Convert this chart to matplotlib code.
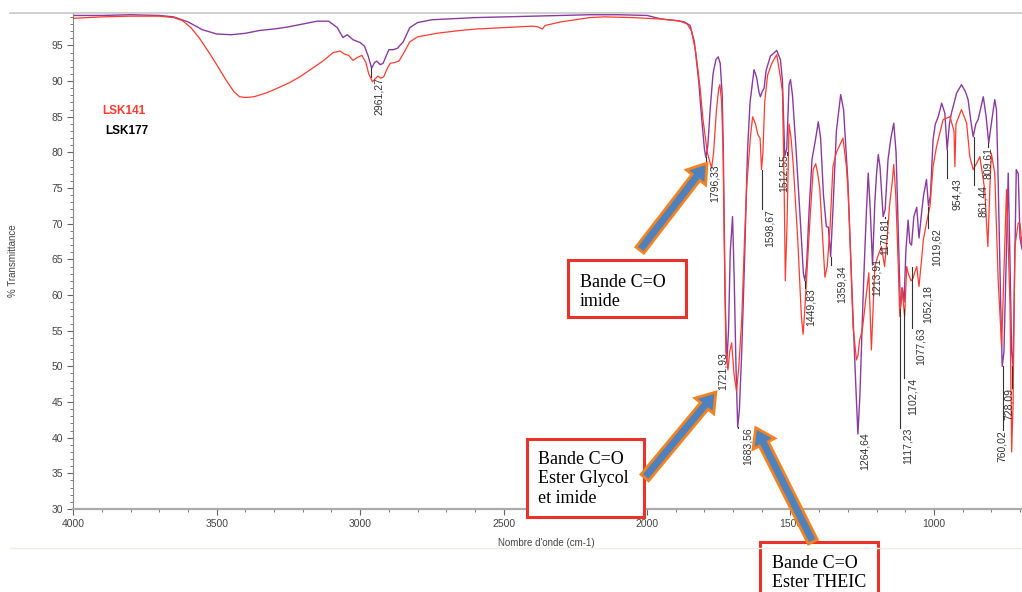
import matplotlib.pyplot as plt
from matplotlib.patches import Rectangle, FancyArrowPatch
from matplotlib.lines import Line2D
from matplotlib.ticker import MultipleLocator

plt.rcParams['font.family'] = ['Liberation Sans', 'DejaVu Sans']

# Spectre LSK177 (violet)
wn_177 = [4000, 3900, 3800, 3700, 3650, 3600, 3550, 3500, 3450, 3400, 3350, 3300, 3250, 3200,
          3150, 3110, 3080, 3060, 3045, 3025, 3000, 2985, 2972, 2960, 2950, 2942, 2930, 2920,
          2900, 2885, 2870, 2850, 2827, 2800, 2750, 2600, 2400, 2200, 2100, 2000, 1950, 1900,
          1870, 1850, 1835, 1820, 1810, 1800, 1795, 1788, 1780, 1770, 1760, 1752, 1745, 1738,
          1734, 1728, 1722, 1716, 1710, 1702, 1696, 1690, 1684, 1678, 1670, 1660, 1650, 1641,
          1627, 1618, 1610, 1605, 1598, 1592, 1585, 1570, 1548, 1535, 1528, 1520, 1513, 1505,
          1500, 1493, 1480, 1465, 1455, 1450, 1444, 1435, 1425, 1412, 1403, 1395, 1385, 1375,
          1368, 1360, 1352, 1340, 1325, 1315, 1300, 1285, 1272, 1265, 1258, 1245, 1235, 1229,
          1222, 1214, 1206, 1200, 1194, 1188, 1177, 1170, 1160, 1150, 1140, 1132, 1125, 1117,
          1110, 1104, 1098, 1090, 1084, 1078, 1070, 1060, 1052, 1043, 1036, 1026, 1019, 1012,
          1003, 995, 985, 973, 962, 954, 946, 939, 921, 904, 890, 881, 870, 863, 854, 846,
          828, 818, 809, 800, 788, 782, 776, 768, 762, 756, 748, 741, 735, 729, 724, 718,
          713, 706, 700, 693]
t_177 = [99.2, 99.2, 99.3, 99.2, 99.0, 98.3, 97.2, 96.6, 96.5, 96.7, 97.1, 97.3, 97.6, 98.0,
         98.4, 98.4, 97.5, 96.1, 96.5, 95.8, 95.4, 94.9, 93.5, 91.8, 92.6, 92.8, 92.3, 92.5,
         94.4, 94.4, 94.6, 95.5, 97.5, 98.2, 98.6, 98.9, 99.1, 99.3, 99.3, 99.2, 98.7, 98.5,
         98.3, 97.8, 95.5, 90.0, 85.0, 80.5, 79.3, 81.0, 86.0, 91.0, 93.0, 93.4, 92.5, 88.0,
         80.0, 60.0, 50.5, 55.0, 66.0, 71.0, 62.0, 50.0, 41.5, 44.0, 52.0, 65.0, 80.0, 87.0,
         91.6, 90.5, 88.5, 87.8, 88.6, 89.0, 91.5, 93.5, 94.3, 93.0, 90.0, 79.5, 80.5, 89.5,
         90.2, 88.0, 80.0, 70.0, 63.0, 62.0, 64.0, 72.0, 79.0, 82.0, 84.3, 82.0, 74.0, 69.6,
         69.5, 65.4, 72.0, 83.0, 88.1, 86.0, 76.0, 60.0, 47.0, 40.5, 46.0, 62.0, 72.0, 77.1,
         72.0, 64.2, 73.0, 77.0, 79.7, 78.0, 71.0, 72.0, 79.0, 82.0, 84.1, 80.0, 70.0, 58.0,
         61.0, 59.0, 66.0, 70.5, 67.3, 67.0, 71.0, 72.3, 68.0, 71.5, 74.0, 76.2, 72.5, 74.0,
         81.8, 84.0, 85.0, 86.9, 85.5, 80.4, 84.0, 85.5, 88.3, 89.5, 88.5, 87.4, 84.0, 82.2,
         84.0, 84.6, 87.8, 85.0, 81.3, 84.0, 87.4, 86.0, 76.0, 60.0, 50.0, 52.0, 65.0, 77.1,
         65.0, 52.0, 50.0, 65.0, 77.6, 77.0, 68.0, 66.5]

# Spectre LSK141 (rouge)
wn_141 = [4000, 3900, 3800, 3700, 3650, 3620, 3590, 3560, 3530, 3500, 3470, 3440, 3420, 3400,
          3370, 3330, 3300, 3250, 3210, 3170, 3130, 3094, 3070, 3055, 3040, 3025, 3010, 2994,
          2980, 2970, 2957, 2948, 2938, 2928, 2918, 2905, 2895, 2880, 2865, 2850, 2827, 2800,
          2733, 2650, 2594, 2500, 2400, 2380, 2365, 2355, 2300, 2200, 2150, 2050, 1950, 1885,
          1860, 1845, 1830, 1815, 1805, 1790, 1775, 1768, 1758, 1750, 1746, 1740, 1735, 1730,
          1725, 1718, 1712, 1705, 1697, 1688, 1680, 1670, 1660, 1653, 1640, 1632, 1622, 1614,
          1606, 1601, 1596, 1590, 1580, 1565, 1548, 1535, 1528, 1522, 1518, 1512, 1505, 1498,
          1490, 1475, 1462, 1456, 1450, 1440, 1432, 1421, 1412, 1405, 1398, 1388, 1380, 1372,
          1362, 1352, 1340, 1317, 1305, 1299, 1290, 1282, 1270, 1265, 1259, 1250, 1235, 1227,
          1218, 1212, 1206, 1195, 1183, 1172, 1163, 1155, 1145, 1140, 1133, 1125, 1119, 1112,
          1102, 1095, 1090, 1080, 1073, 1066, 1060, 1052, 1043, 1037, 1026, 1014, 1003, 991,
          968, 944, 930, 927, 923, 904, 886, 875, 863, 852, 840, 823, 812, 805, 800, 788,
          776, 764, 753, 747, 735, 729, 724, 718, 706, 700, 693]
t_141 = [98.8, 99.0, 99.1, 99.1, 98.9, 98.5, 97.5, 96.0, 94.2, 92.3, 90.3, 88.5, 87.8, 87.7,
         87.8, 88.3, 88.8, 89.7, 90.6, 91.7, 92.8, 94.0, 94.2, 93.8, 93.6, 92.9, 93.3, 93.6,
         92.6, 91.0, 89.9, 90.3, 90.7, 90.4, 90.6, 91.8, 92.5, 92.6, 92.8, 93.8, 95.5, 96.2,
         96.7, 97.1, 97.3, 97.5, 97.7, 97.6, 97.3, 97.8, 98.3, 98.9, 99.0, 98.9, 98.7, 98.4,
         98.0, 97.0, 94.0, 89.0, 84.6, 80.0, 77.8, 80.0, 86.0, 89.0, 89.5, 87.0, 80.0, 65.0,
         52.0, 49.5, 52.0, 53.3, 49.0, 46.5, 50.0, 56.5, 68.0, 75.0, 82.0, 85.0, 84.0, 82.5,
         82.0, 77.6, 80.0, 87.0, 90.8, 92.5, 93.7, 90.5, 88.5, 75.0, 62.0, 70.0, 84.0, 82.0,
         78.0, 68.0, 57.0, 54.5, 58.0, 65.0, 70.6, 77.6, 78.4, 77.0, 75.0, 68.0, 62.5, 64.0,
         69.6, 78.0, 80.0, 82.0, 78.0, 74.3, 65.0, 55.6, 50.9, 51.5, 53.7, 55.0, 60.3, 63.1,
         52.3, 58.0, 64.0, 65.5, 66.8, 64.0, 68.0, 72.4, 76.0, 78.3, 74.0, 64.9, 57.0, 61.0,
         57.0, 64.0, 63.1, 62.0, 62.3, 63.3, 64.0, 61.2, 65.0, 67.7, 70.1, 72.4, 78.0, 80.8,
         84.6, 85.0, 83.0, 78.0, 84.0, 86.0, 84.1, 79.4, 77.6, 78.4, 79.4, 74.8, 66.8, 75.0,
         79.9, 77.1, 62.0, 52.8, 66.8, 74.8, 59.0, 38.0, 45.0, 66.8, 70.1, 70.0, 67.0]

# Pics annotés : texte, nombre d'onde du pic, %T du pic
peak_text = ["2961,27", "1796,33", "1721,93", "1683,56", "1598,67", "1512,55", "1449,83",
             "1359,34", "1264,64", "1213,91", "1170,81", "1117,23", "1102,74", "1077,63",
             "1052,18", "1019,62", "954,43", "861,44", "809,61", "760,02", "728,09"]
peak_wn = [2961, 1796, 1722, 1684, 1599, 1513, 1450, 1360, 1265, 1214, 1171, 1117, 1103,
           1078, 1052, 1020, 954, 861, 810, 760, 728]
peak_t = [91.8, 79.3, 50.5, 41.5, 77.6, 80.0, 62.0, 65.4, 40.5, 64.2, 71.0, 58.0, 58.0,
          64.0, 61.2, 72.4, 80.4, 82.2, 81.3, 50.0, 50.0]
# position des étiquettes (centre en x, haut du texte en y)
label_wn = [2934, 1763, 1735, 1648, 1572, 1523, 1429, 1321, 1241, 1199, 1171, 1091, 1073,
            1045, 1021, 990, 920, 829, 812, 763, 738]
label_t = [90.6, 78.3, 52.0, 41.4, 72.0, 79.7, 61.0, 64.2, 40.8, 65.2, 70.8, 41.4, 48.4,
           55.4, 61.4, 69.4, 76.4, 75.4, 80.8, 41.1, 47.0]

fig = plt.figure(figsize=(10.22, 5.92), dpi=100)
ax = fig.add_axes([0.0717, 0.1402, 0.9283, 0.8373])

ax.plot(wn_141, t_141, color="#ff3b30", lw=0.9, zorder=3)
ax.plot(wn_177, t_177, color="#8a3b9e", lw=1.0, zorder=2)

for txt, pw, pt, lw_, lt in zip(peak_text, peak_wn, peak_t, label_wn, label_t):
    if lt < pt:
        ax.plot([pw, pw], [pt, lt], color="#333333", lw=0.8, zorder=4)
    ax.text(lw_, lt, txt, rotation=90, ha="center", va="top", fontsize=7.5,
            color="#333333", zorder=5)

ax.set_xlim(4000, 693)
ax.set_ylim(30, 99.5)
ax.xaxis.set_major_locator(MultipleLocator(500))
ax.xaxis.set_minor_locator(MultipleLocator(100))
ax.yaxis.set_major_locator(MultipleLocator(5))
ax.yaxis.set_minor_locator(MultipleLocator(1))
ax.set_yticks(range(30, 100, 5))
ax.tick_params(axis="both", which="major", labelsize=7.5, labelcolor="#444444",
               color="#666666", length=4, width=0.8)
ax.tick_params(axis="both", which="minor", color="#666666", length=2, width=0.6)
for s in ["top", "right"]:
    ax.spines[s].set_visible(False)
ax.spines["left"].set_color("#888888")
ax.spines["left"].set_linewidth(0.8)
ax.spines["bottom"].set_color("#aaaaaa")
ax.spines["bottom"].set_linewidth(1.6)

ax.set_xlabel("Nombre d'onde (cm-1)", fontsize=7, color="#444444")
ax.set_ylabel("% Transmittance", fontsize=7, color="#444444")
ax.xaxis.set_label_coords(0.499, -0.058)
ax.yaxis.set_label_coords(-0.058, 0.5)

ax.text(3900, 85.8, "LSK141", color="#ff3b30", fontsize=8.5, fontweight="bold",
        ha="left", va="center")
ax.text(3889, 83.0, "LSK177", color="black", fontsize=8.5, fontweight="bold",
        ha="left", va="center")

# lignes grises haut / bas
fig.add_artist(Line2D([0.01, 1.0], [0.9775, 0.9775], color="#c8c8c8", lw=1.2))
fig.add_artist(Line2D([0.01, 1.0], [0.074, 0.074], color="#eeeee6", lw=1.0))

# encadrés rouges
boxes = [
    (2276, 1864, 56.95, 64.9, 2234, 63.0, "Bande C=O\nimide"),
    (2419, 2011, 28.9, 39.8, 2380, 38.2, "Bande C=O\nEster Glycol\net imide"),
    (1607, 1195, 17.0, 25.4, 1565, 23.6, "Bande C=O\nEster THEIC"),
]
for x0, x1, y0, y1, tx, ty, txt in boxes:
    ax.add_patch(Rectangle((x0, y0), x1 - x0, y1 - y0, fc="white", ec="#e8322a",
                           lw=2.2, clip_on=False, zorder=6))
    ax.text(tx, ty, txt, family="Liberation Serif", fontsize=13, ha="left", va="top",
            linespacing=1.2, clip_on=False, zorder=7)

# flèches
arrows = [((2025, 66.3), (1791, 78.5)),
          ((2008, 34.4), (1760, 46.4)),
          ((1422, 25.4), (1621, 41.4))]
for tail, head in arrows:
    a = FancyArrowPatch(tail, head,
                        arrowstyle="simple,head_length=1.0,head_width=1.35,tail_width=0.55",
                        mutation_scale=13, fc="#4f81bd", ec="#f58220", lw=2.0,
                        joinstyle="miter", shrinkA=0, shrinkB=0, clip_on=False, zorder=8)
    ax.add_patch(a)

fig.savefig("out.png", dpi=100)
